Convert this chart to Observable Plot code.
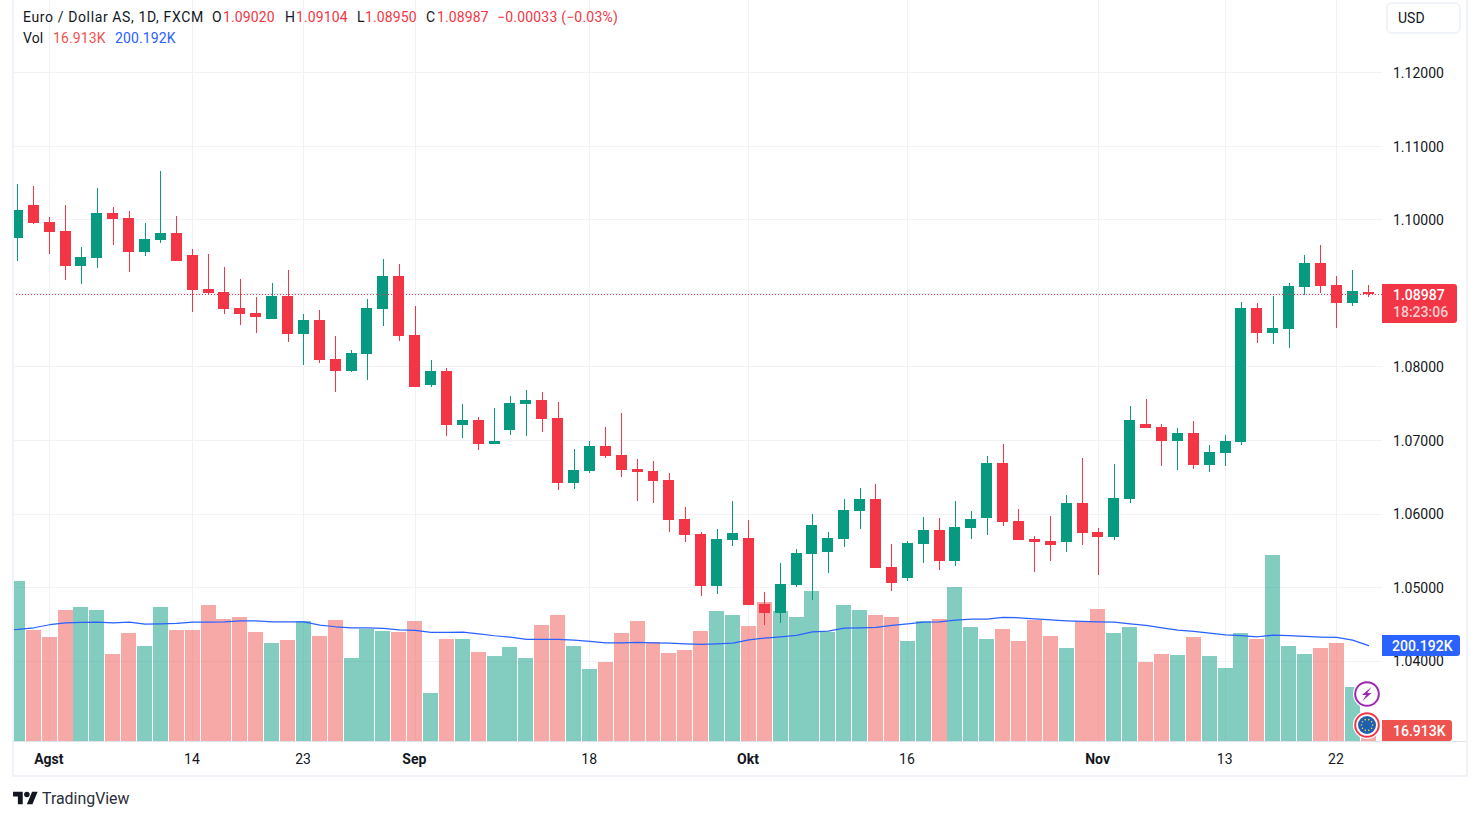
<!DOCTYPE html>
<html lang="id">
<head>
<meta charset="utf-8">
<title>Euro / Dollar AS</title>
<script src="https://cdn.jsdelivr.net/npm/d3@7"></script>
<script src="https://cdn.jsdelivr.net/npm/@observablehq/plot@0.6"></script>
<style>
html,body{margin:0;padding:0;background:#fff;overflow:hidden}
#page{position:relative;width:1480px;height:820px;font-family:Roboto,sans-serif;font-size:14px;color:#131722}
#page svg.plot{position:absolute;left:0;top:0}
.t{position:absolute;white-space:nowrap;line-height:20px}
.box{position:absolute;left:1382px;color:#fff;font-weight:500;border-radius:0 3px 3px 0}
.frame{position:absolute;background:#f0f3fa}
</style>
</head>
<body>
<div id="page"></div>
<script>
const open = [
1.09748,1.10197,1.09966,1.09844,1.09367,1.09476,1.10088,1.10020,1.09558,1.09721,
1.09816,1.09517,1.09054,1.09014,1.08796,1.08728,1.08646,1.08959,1.08442,1.08633,
1.08102,1.07939,1.08170,1.08782,1.09231,1.08429,1.07748,1.07939,1.07204,1.07272,
1.06946,1.07136,1.07490,1.07544,1.07299,1.06415,1.06578,1.06918,1.06796,1.06605,
1.06578,1.06456,1.05925,1.05721,1.05014,1.05639,1.05667,1.04769,1.04646,1.05027,
1.05449,1.05476,1.05653,1.06034,1.06197,1.05272,1.05122,1.05585,1.05776,1.05354,
1.05803,1.05939,1.06687,1.05898,1.05653,1.05626,1.05612,1.06143,1.05748,1.05680,
1.06197,1.07218,1.07177,1.06986,1.07095,1.06660,1.06823,1.06973,1.08796,1.08456,
1.08510,1.09082,1.09408,1.09109,1.08864,1.09020];
const close = [
1.10129,1.09952,1.09830,1.09367,1.09490,1.10088,1.10007,1.09558,1.09735,1.09816,
1.09435,1.09041,1.09000,1.08782,1.08714,1.08673,1.08959,1.08442,1.08633,1.08088,
1.07939,1.08184,1.08796,1.09231,1.08415,1.07721,1.07939,1.07204,1.07272,1.06946,
1.06986,1.07503,1.07544,1.07286,1.06415,1.06592,1.06918,1.06782,1.06592,1.06565,
1.06442,1.05912,1.05707,1.05014,1.05653,1.05735,1.04755,1.04646,1.05041,1.05463,
1.05844,1.05667,1.06048,1.06197,1.05258,1.05054,1.05599,1.05776,1.05354,1.05816,
1.05925,1.06687,1.05884,1.05639,1.05612,1.05571,1.06143,1.05735,1.05680,1.06211,
1.07272,1.07163,1.06986,1.07095,1.06660,1.06837,1.06986,1.08796,1.08456,1.08524,
1.09095,1.09408,1.09095,1.08864,1.09027,1.08987];
const high = [
1.10483,1.10456,1.10034,1.10197,1.09626,1.10429,1.10170,1.10116,1.09952,1.10660,
1.10048,1.09599,1.09531,1.09354,1.09190,1.08946,1.09136,1.09313,1.08714,1.08769,
1.08415,1.08224,1.08918,1.09463,1.09395,1.08823,1.08088,1.07980,1.07490,1.07313,
1.07435,1.07599,1.07680,1.07653,1.07517,1.06878,1.06986,1.07177,1.07367,1.06742,
1.06714,1.06551,1.06088,1.05748,1.05789,1.06170,1.05912,1.04932,1.05327,1.05517,
1.05993,1.05748,1.06197,1.06347,1.06401,1.05585,1.05626,1.05952,1.05939,1.06170,
1.06034,1.06782,1.06946,1.06061,1.05694,1.05966,1.06252,1.06755,1.05803,1.06673,
1.07463,1.07558,1.07218,1.07163,1.07259,1.06932,1.07068,1.08878,1.08864,1.08959,
1.09136,1.09517,1.09653,1.09231,1.09313,1.09104];
const low = [
1.09435,1.09939,1.09531,1.09177,1.09122,1.09340,1.09653,1.09286,1.09503,1.09680,
1.09435,1.08741,1.08986,1.08714,1.08565,1.08456,1.08646,1.08333,1.08020,1.08048,
1.07653,1.07925,1.07816,1.08551,1.08347,1.07721,1.07721,1.07054,1.07027,1.06864,
1.06946,1.07068,1.07054,1.07109,1.06320,1.06333,1.06551,1.06755,1.06497,1.06170,
1.06143,1.05748,1.05612,1.04878,1.04905,1.05558,1.04755,1.04483,1.04510,1.05000,
1.04823,1.05190,1.05544,1.05789,1.05258,1.04946,1.05082,1.05327,1.05231,1.05286,
1.05653,1.05708,1.05830,1.05639,1.05204,1.05354,1.05476,1.05571,1.05163,1.05639,
1.06143,1.07163,1.06646,1.06592,1.06605,1.06565,1.06646,1.06932,1.08320,1.08306,
1.08252,1.08973,1.09000,1.08524,1.08823,1.08950];
// volume in thousands
const volume = [
334.6,232.1,217.5,273.9,280.2,273.9,181.9,225.8,198.6,280.2,
232.1,232.1,284.4,255.1,259.3,227.9,204.9,211.2,250.9,219.6,
253.0,173.6,234.2,230.0,227.9,250.9,100.4,213.3,213.3,186.1,
177.7,196.6,173.6,242.6,263.5,198.6,150.6,165.2,225.8,250.9,
207.0,184.0,190.3,230.0,271.8,263.5,240.5,290.6,271.8,259.3,
313.7,227.9,284.4,273.9,263.5,259.3,209.1,250.9,255.1,322.0,
238.4,213.3,234.2,209.1,253.0,219.6,194.5,250.9,276.0,225.8,
238.4,165.2,181.9,179.8,217.5,177.7,152.6,225.8,213.3,388.9,
198.6,181.9,194.5,204.9,112.9,16.913];
const volumeMA = [
234.2,237.7,244.0,248.1,248.8,249.5,248.1,249.5,245.3,246.0,
246.7,249.5,249.5,250.2,252.3,252.3,250.2,250.2,250.2,243.3,
239.8,237.7,237.7,236.3,233.5,232.1,227.9,227.9,228.6,225.1,
221.0,218.2,213.3,213.3,213.3,211.9,209.1,206.3,206.3,207.0,
206.3,205.6,204.2,202.8,204.2,205.6,212.6,216.1,218.9,221.6,
229.3,230.7,237.0,237.7,238.4,242.6,246.0,249.5,250.2,253.7,
255.8,255.8,259.3,258.6,256.5,254.4,252.3,250.9,250.2,249.5,
246.0,242.6,237.7,232.8,230.0,226.5,223.0,221.0,218.9,222.3,
221.0,219.6,218.2,217.5,211.9,200.192];
const volumeMABefore = 233.5;   // the average one bar before the visible window
const priceTicks = [1.04,1.05,1.06,1.07,1.08,1.09,1.10,1.11,1.12];
const monthTicks = [2,25,46,68];
const monthLabels = ["Agst","Sep","Okt","Nov"];
const dayTicks = [11,18,36,56,76,83];
const dayLabels = ["14","23","18","16","13","22"];

const UP = "#089981", DOWN = "#f23645", VUP = "#089981", VDOWN = "#ef5350", MA = "#2962ff", GRID = "#f1f2f5";
const priceMin = 1.02905, priceMax = 1.12986;     // the y domain of the pane
const priceOfK = 6.51e-5;                         // the volume overlay sits in the same pane
const volY = v => priceMin + v * priceOfK;
const last = close.length - 1;

const idx = d3.range(close.length);
const isUp = i => close[i] >= open[i];
const allTicks = monthTicks.concat(dayTicks);
const monthMap = new Map(monthTicks.map((t,i)=>[t,monthLabels[i]]));
const dayMap = new Map(dayTicks.map((t,i)=>[t,dayLabels[i]]));

const chart = Plot.plot({
  width:1480, height:820,
  marginLeft:13, marginRight:98, marginTop:0, marginBottom:79,
  style:{background:"transparent", fontFamily:"Roboto, sans-serif", fontSize:"14px", color:"#131722"},
  x:{type:"band", domain:[-1,...idx], range:[-6.44,1376], padding:0, round:false, axis:null},
  y:{domain:[priceMin,priceMax], range:[741,0], axis:null},
  marks:[
    Plot.ruleY(priceTicks,{stroke:GRID,strokeWidth:1,shapeRendering:"crispEdges"}),
    Plot.ruleX(allTicks,{x:d=>d,stroke:GRID,strokeWidth:1,shapeRendering:"crispEdges"}),
    Plot.barY(idx,{x:d=>d,y1:priceMin,y2:i=>volY(volume[i]),
      fill:i=>isUp(i)?VUP:VDOWN,fillOpacity:.5,insetLeft:.45,insetRight:.45,clip:true,shapeRendering:"crispEdges"}),
    Plot.lineY([-1,...idx],{x:d=>d,y:i=>volY(i<0?volumeMABefore:volumeMA[i]),stroke:MA,strokeWidth:1.25,clip:true}),
    Plot.ruleX(idx,{x:d=>d,y1:i=>low[i],y2:i=>high[i],stroke:i=>isUp(i)?UP:DOWN,strokeWidth:1,shapeRendering:"crispEdges"}),
    Plot.barY(idx,{x:d=>d,y1:i=>open[i],y2:i=>close[i],fill:i=>isUp(i)?UP:DOWN,
      insetLeft:2.45,insetRight:2.45,clip:true,shapeRendering:"crispEdges"}),
    Plot.ruleY([close[last]],{stroke:DOWN,strokeWidth:1,strokeDasharray:"1 2",shapeRendering:"crispEdges"}),
    Plot.axisY({anchor:"right",ticks:priceTicks,tickFormat:d=>d.toFixed(5),tickSize:0,tickPadding:10.5,dy:1,label:null,fontSize:14,color:"#131722"}),
    Plot.axisX({anchor:"bottom",ticks:monthTicks,tickFormat:d=>monthMap.get(d),tickSize:0,tickPadding:13,dx:-.8,label:null,fontWeight:"bold",fontSize:14}),
    Plot.axisX({anchor:"bottom",ticks:dayTicks,tickFormat:d=>dayMap.get(d),tickSize:0,tickPadding:13,dx:-.8,label:null,fontSize:14})
  ]
});

const page = document.getElementById("page");
const add = (html)=>page.insertAdjacentHTML("beforeend",html);
const yScale = chart.scale("y");
const py = v => yScale.apply(v);

// frame around the widget
add(`<div class="frame" style="left:12px;top:0;width:2px;height:776px"></div>`);
add(`<div class="frame" style="left:1466px;top:0;width:2px;height:776px"></div>`);
add(`<div class="frame" style="left:12px;top:775px;width:1456px;height:2px"></div>`);
page.appendChild(chart);
add(`<div style="position:absolute;left:13px;top:741px;width:1453px;height:1px;background:#e0e3eb"></div>`);

// legend
const leg = (x,y,s,c,extra)=>add(`<span class="t" style="left:${x}px;top:${y}px;color:${c||"#131722"};${extra||""}">${s}</span>`);
const tight = "letter-spacing:.12px";
leg(23,7,"Euro / Dollar AS, 1D, FXCM",null,"letter-spacing:.62px");
leg(212,7,"O"); leg(223,7,open[last].toFixed(5),DOWN,tight);
leg(285,7,"H"); leg(296,7,high[last].toFixed(5),DOWN,tight);
leg(357,7,"L"); leg(365,7,low[last].toFixed(5),DOWN,tight);
leg(426,7,"C"); leg(437,7,close[last].toFixed(5),DOWN,tight);
leg(497,7,"\u22120.00033 (\u22120.03%)",DOWN,"letter-spacing:.2px");
leg(23,28,"Vol",null,tight); leg(53,28,"16.913K",VDOWN,tight); leg(115,28,"200.192K",MA,tight);

// currency button
add(`<div style="position:absolute;left:1386px;top:2px;width:71px;height:28px;border:2px solid #f0f3fa;border-radius:6px;background:#fff"></div>`);
leg(1398,8,"USD");

// price-scale labels, placed by the y scale
const pc = py(close[last]);
add(`<div class="box" style="top:${pc-10}px;width:75px;height:39px;background:${DOWN}">
  <span class="t" style="left:11px;top:1px">1.08987</span>
  <span class="t" style="left:11px;top:18px;color:rgba(255,255,255,.75)">18:23:06</span></div>`);
const pm = py(volY(volumeMA[last]));
add(`<div class="box" style="top:${pm-10.5}px;width:78px;height:21px;background:${MA}">
  <span class="t" style="left:10px;top:1px">200.192K</span></div>`);
add(`<div class="box" style="top:720px;width:70px;height:21px;background:${VDOWN}">
  <span class="t" style="left:11px;top:1px">16.913K</span></div>`);

// event badges
const stars = d3.range(10).map(k=>{const a=k*Math.PI/5;return `<circle cx="${14+5.6*Math.cos(a)}" cy="${14+5.6*Math.sin(a)}" r=".8" fill="#f7d84a"/>`}).join("");
add(`<svg style="position:absolute;left:1353px;top:679.5px" width="28" height="28" viewBox="0 0 28 28">
  <circle cx="14" cy="14" r="14" fill="#fff"/><circle cx="14" cy="14" r="11.8" fill="#fff" stroke="#9c27b0" stroke-width="2"/>
  <path d="M18.5 7 9 15h4.2l-3.7 6 9-8h-4.2z" fill="#9c27b0"/></svg>`);
add(`<svg style="position:absolute;left:1353px;top:711px" width="28" height="28" viewBox="0 0 28 28">
  <circle cx="14" cy="14" r="14" fill="#fff"/><circle cx="14" cy="14" r="11.8" fill="#fff" stroke="#f23645" stroke-width="2"/>
  <circle cx="14" cy="14" r="9" fill="#1e5fb0"/>${stars}</svg>`);

// brand line
add(`<svg style="position:absolute;left:13px;top:789px" width="25" height="19.4" viewBox="0 0 36 28" fill="#131722">
  <path d="M14 22H7V11H0V4h14v18zM28 22h-8l7.5-18h8L28 22z"/><circle cx="20" cy="8" r="4"/></svg>`);
add(`<span class="t" style="left:42px;top:789px;font-size:15.9px;color:#2a2e39">TradingView</span>`);
</script>
</body>
</html>
